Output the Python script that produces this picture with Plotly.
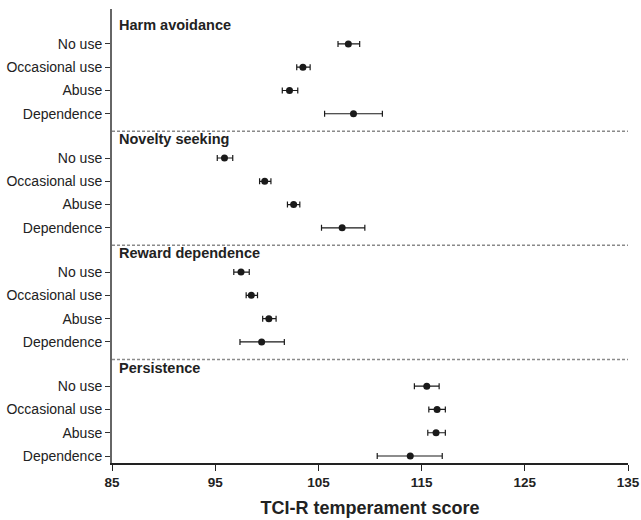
import plotly.graph_objects as go

# ---- data ----
groups = ["Harm avoidance", "Novelty seeking", "Reward dependence", "Persistence"]
levels = ["No use", "Occasional use", "Abuse", "Dependence"]

harm_mean = [107.9, 103.5, 102.2, 108.4]
harm_lo = [106.9, 102.9, 101.5, 105.6]
harm_hi = [109.0, 104.2, 103.0, 111.2]

novelty_mean = [95.9, 99.8, 102.6, 107.3]
novelty_lo = [95.2, 99.3, 102.0, 105.3]
novelty_hi = [96.7, 100.4, 103.2, 109.5]

reward_mean = [97.5, 98.5, 100.2, 99.5]
reward_lo = [96.8, 98.0, 99.6, 97.4]
reward_hi = [98.3, 99.1, 100.9, 101.7]

persist_mean = [115.5, 116.5, 116.4, 113.9]
persist_lo = [114.3, 115.7, 115.6, 110.7]
persist_hi = [116.7, 117.3, 117.3, 117.0]

x_ticks = [85, 95, 105, 115, 125, 135]

means = [harm_mean, novelty_mean, reward_mean, persist_mean]
los = [harm_lo, novelty_lo, reward_lo, persist_lo]
his = [harm_hi, novelty_hi, reward_hi, persist_hi]

# ---- layout helpers ----
GROUP_STEP = 4.9
FONT = "Liberation Sans, Arial, Helvetica, sans-serif"

fig = go.Figure()
tickvals, ticktext = [], []
shapes, annotations = [], []

for g, name in enumerate(groups):
    base = g * GROUP_STEP
    ys = [base + i for i in range(len(levels))]
    m, lo, hi = means[g], los[g], his[g]
    fig.add_trace(go.Scatter(
        x=m, y=ys, mode="markers",
        marker=dict(color="#1a1a1a", size=7),
        error_x=dict(type="data", symmetric=False,
                     array=[h - v for h, v in zip(hi, m)],
                     arrayminus=[v - l for v, l in zip(m, lo)],
                     color="#1a1a1a", thickness=1.2, width=3),
        showlegend=False, hoverinfo="x+y",
    ))
    tickvals += ys
    ticktext += levels
    annotations.append(dict(
        x=0, xref="paper", xshift=5, xanchor="left",
        y=base - 0.8, yref="y", yanchor="middle",
        text="<b>" + name + "</b>", showarrow=False,
        font=dict(family=FONT, size=14.5, color="#222"),
    ))
    if g < len(groups) - 1:
        yl = base + len(levels) - 1 + 0.75
        shapes.append(dict(
            type="line", xref="paper", x0=0, x1=1, yref="y", y0=yl, y1=yl,
            line=dict(color="#8a8a8a", width=1.5, dash="3px,2px"),
        ))

fig.update_layout(
    width=641, height=520,
    margin=dict(l=112, r=13, t=9, b=57, autoexpand=False),
    paper_bgcolor="white", plot_bgcolor="white",
    shapes=shapes, annotations=annotations,
    xaxis=dict(
        range=[85, 135], tickvals=x_ticks, ticktext=[str(t) for t in x_ticks],
        showgrid=False, zeroline=False, automargin=False,
        showline=True, linecolor="#222", linewidth=1.5,
        ticks="outside", ticklen=6, tickcolor="#222", tickwidth=1.2,
        tickfont=dict(family=FONT, size=13.5, color="#222", weight="bold"),
        title=dict(text="TCI-R temperament score", standoff=12,
                   font=dict(family=FONT, size=18, color="#222", weight="bold")),
    ),
    yaxis=dict(
        range=[18.0, -1.5], tickvals=tickvals, ticktext=ticktext,
        showgrid=False, zeroline=False, automargin=False,
        showline=True, linecolor="#666", linewidth=2,
        ticks="outside", ticklen=5, tickcolor="#333", tickwidth=1,
        tickfont=dict(family=FONT, size=14, color="#222"),
    ),
)

# remove the page's default 8px body margin so the figure fills the window
fig.write_html("out.html",
               config={"displayModeBar": False},
               post_script="document.body.style.margin='0';document.body.style.overflow='hidden';")
